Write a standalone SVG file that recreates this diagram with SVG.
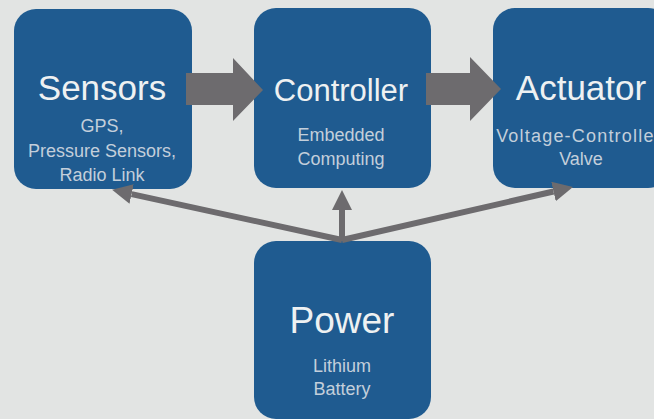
<svg xmlns="http://www.w3.org/2000/svg" width="654" height="419" viewBox="0 0 654 419">
<style>
.box{fill:#1f5b90;}
.title{font-family:"Liberation Sans",Arial,sans-serif;fill:#eef1f2;text-anchor:middle;}
.sub{font-family:"Liberation Sans",Arial,sans-serif;font-size:18px;fill:#c3cfdb;text-anchor:middle;}
.block{fill:#6d6b6e;}
.line{stroke:#6d6b6e;stroke-width:6;fill:none;}
</style>
<defs>
<marker id="head" viewBox="0 -10 20 20" refX="0" refY="0" markerWidth="20" markerHeight="20" markerUnits="userSpaceOnUse" orient="auto">
<path d="M0,-10 L20,0 L0,10 z" fill="#6d6b6e"/>
</marker>
</defs>
<rect width="654" height="419" fill="#e2e4e3"/>
<g id="sensors">
<rect class="box" x="14" y="9" width="178" height="180" rx="22"/>
<text class="title" x="102" y="100" font-size="35">Sensors</text>
<text class="sub" x="102" y="132">GPS,</text>
<text class="sub" x="102" y="157">Pressure Sensors,</text>
<text class="sub" x="102" y="181">Radio Link</text>
</g>
<g id="controller">
<rect class="box" x="254" y="8" width="177" height="180" rx="22"/>
<text class="title" x="341" y="101" font-size="31">Controller</text>
<text class="sub" x="341" y="141">Embedded</text>
<text class="sub" x="341" y="165">Computing</text>
</g>
<g id="actuator">
<rect class="box" x="493" y="8" width="177" height="180" rx="22"/>
<text class="title" x="581" y="100" font-size="35">Actuator</text>
<text class="sub" x="581" y="142" letter-spacing="1.2">Voltage-Controlled</text>
<text class="sub" x="581" y="165">Valve</text>
</g>
<g id="power">
<rect class="box" x="254" y="241" width="177" height="178" rx="22"/>
<text class="title" x="342" y="333" font-size="37">Power</text>
<text class="sub" x="342" y="372">Lithium</text>
<text class="sub" x="342" y="395">Battery</text>
</g>
<g id="connectors">
<polygon class="block" points="186,73 233,73 233,58 263,90 233,121 233,105 186,105"/>
<polygon class="block" points="426,73 470,73 470,57 501,89 470,121 470,105 426,105"/>
<line class="line" x1="342" y1="240" x2="131.6" y2="194.1" marker-end="url(#head)"/>
<line class="line" x1="342" y1="241" x2="342" y2="210" marker-end="url(#head)"/>
<line class="line" x1="342" y1="240" x2="553.5" y2="191.5" marker-end="url(#head)"/>
</g>
</svg>
